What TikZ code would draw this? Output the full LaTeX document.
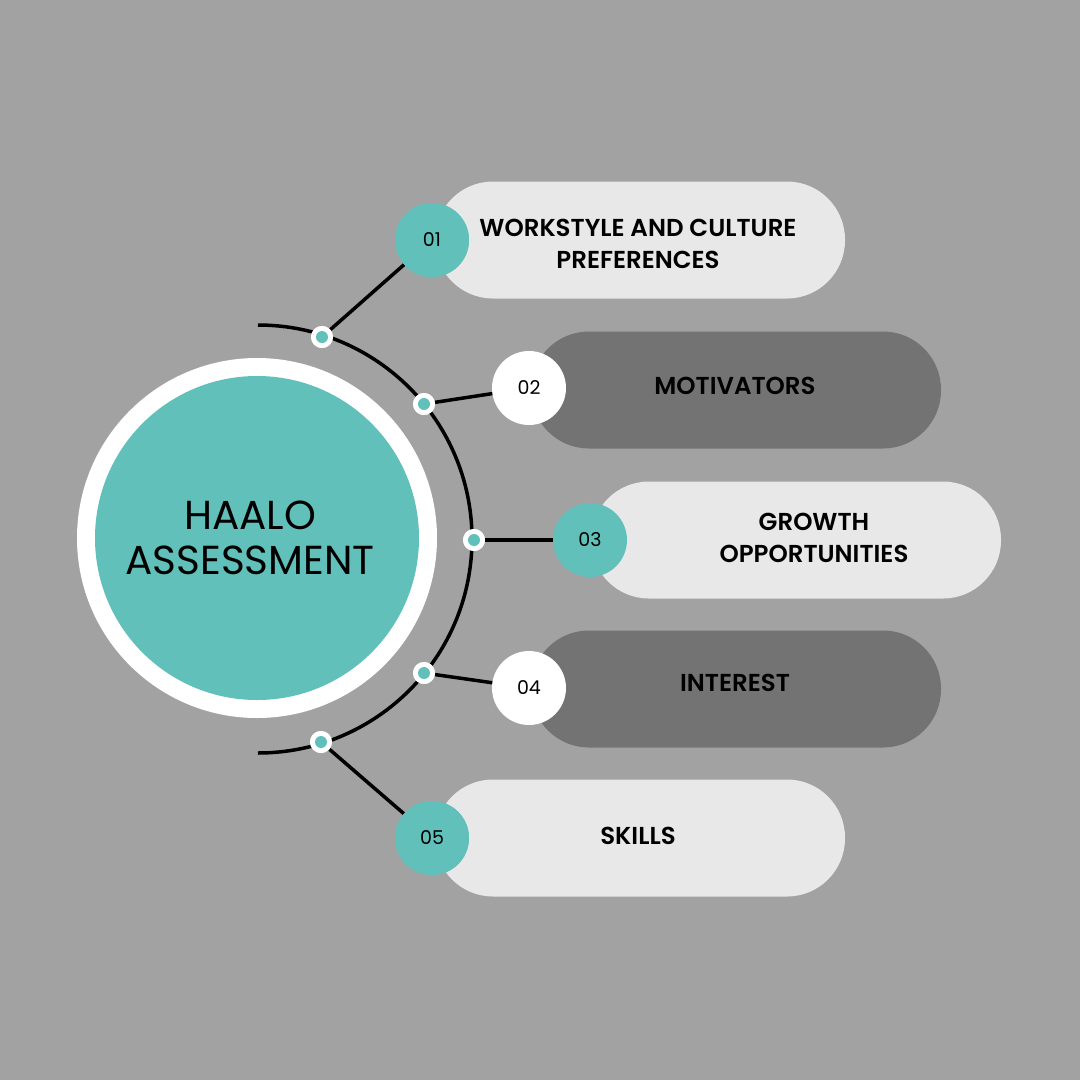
\documentclass[tikz,border=0pt]{standalone}
\usepackage{fontspec}
\setmainfont{Poppins}[BoldFont=Poppins SemiBold]
\definecolor{teal1}{HTML}{62C0BB}
\definecolor{bg}{HTML}{A2A2A2}
\definecolor{lightp}{HTML}{E8E8E8}
\definecolor{darkp}{HTML}{737373}
\tikzset{
 pill/.style={rounded corners=58pt,minimum width=410pt,minimum height=117pt,inner sep=0pt},
 num/.style={circle,minimum size=74pt,inner sep=0pt,font=\fontsize{19}{19}\selectfont},
 lab/.style={align=center,font=\fontsize{24.5}{32}\selectfont\bfseries},
 dotw/.style={circle,fill=white,minimum size=22pt,inner sep=0pt},
 conn/.style={line width=3.5pt,black}
}
\begin{document}
\begin{tikzpicture}[x=1pt,y=-1pt]
\fill[bg] (0,0) rectangle (1080,1080);
\useasboundingbox (0,0) rectangle (1080,1080);
% arc
\draw[conn] (258,325) arc[start angle=-90,end angle=90,radius=214];
% pills
\node[pill,fill=lightp] (p1) at (640,240) {};
\node[pill,fill=darkp] (p2) at (736,390) {};
\node[pill,fill=lightp] (p3) at (796,540) {};
\node[pill,fill=darkp] (p4) at (736,689) {};
\node[pill,fill=lightp] (p5) at (640,838) {};
\node[lab] at (638,244) {WORKSTYLE AND CULTURE\\PREFERENCES};
\node[lab] at (735,386) {MOTIVATORS};
\node[lab] at (814,538) {GROWTH\\OPPORTUNITIES};
\node[lab] at (735,683) {INTEREST};
\node[lab] at (638,836) {SKILLS};
% dots
\node[dotw] (d1) at (322,337) {};
\node[dotw] (d2) at (424,404) {};
\node[dotw] (d3) at (474,540) {};
\node[dotw] (d4) at (424,673) {};
\node[dotw] (d5) at (321,742) {};
% number circles
\node[num,fill=teal1] (n1) at (432,240) {01};
\node[num,fill=white] (n2) at (529,388) {02};
\node[num,fill=teal1] (n3) at (590,540) {03};
\node[num,fill=white] (n4) at (529,688) {04};
\node[num,fill=teal1] (n5) at (432,838) {05};
\foreach \i in {1,...,5}{
 \draw[conn] (d\i) -- (n\i);
 \node[dotw] at (d\i) {};
 \fill[teal1] (d\i) circle (6);
}
\node[num,fill=teal1] at (n1) {01};
\node[num,fill=teal1] at (n5) {05};
% main circle
\fill[white] (257,538) circle (180);
\node[circle,fill=teal1,minimum size=324pt,inner sep=0pt] (main) at (257,538) {};
\node[align=center,font=\fontsize{40.5}{45}\selectfont] at (250,538) {HAALO\\ASSESSMENT};
\end{tikzpicture}
\end{document}
